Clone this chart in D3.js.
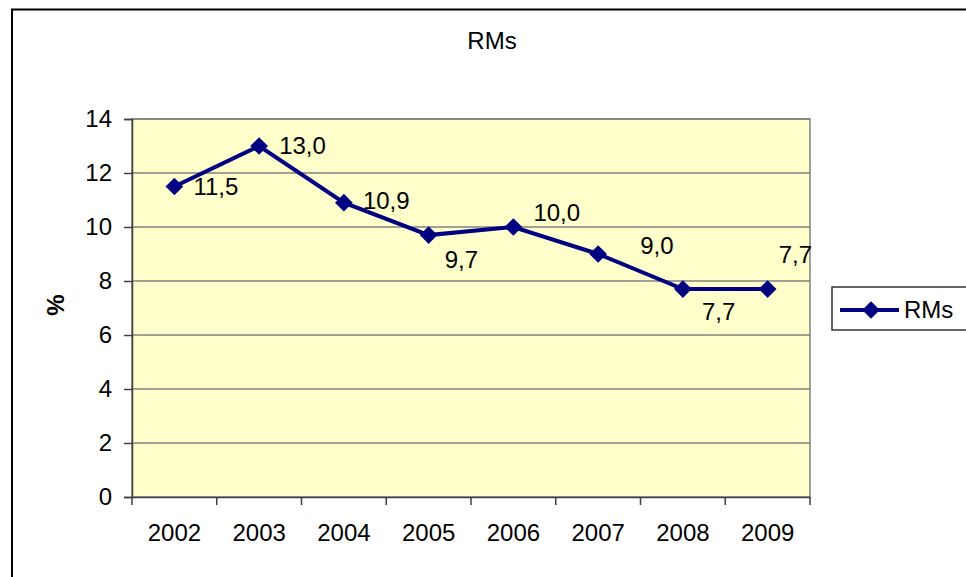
<!DOCTYPE html>
<html>
<head>
<meta charset="utf-8">
<script src="https://cdn.jsdelivr.net/npm/d3@7"></script>
<style>
  body { margin: 0; background: #fff; }
  svg { display: block; font-family: "Liberation Sans", Arial, sans-serif; }
</style>
</head>
<body>
<svg></svg>
<script>
let years = ['2002', '2003', '2004', '2005', '2006', '2007', '2008', '2009']
let values = [11.5, 13.0, 10.9, 9.7, 10.0, 9.0, 7.7, 7.7]
let yTicks = [0, 2, 4, 6, 8, 10, 12, 14]
let seriesName = 'RMs'
let chartTitle = 'RMs'
let yTitle = '%'

let width = 966
let height = 577
let plot = { left: 132, right: 810, top: 119, bottom: 497 }
let navy = '#000080'
let fontSize = 24

// where each data label sits relative to its point (dx, dy)
let labelShift = [[19, 0], [20, 0], [19, -2], [16, 24], [20, -14], [42, -8], [19, 22], [11, -35]]

let svg = d3.select('svg').attr('width', width).attr('height', height)

let xScale = d3.scaleBand().domain(years).range([plot.left, plot.right])
let xEdge = d3.scaleLinear().domain([0, years.length]).range([plot.left, plot.right])
let yScale = d3.scaleLinear().domain([0, 14]).range([plot.bottom, plot.top])

let diamond = d3.symbol().type(d3.symbolDiamond2).size(200)

// outer chart border
svg.append('rect')
  .attr('x', 12).attr('y', 9.5)
  .attr('width', width + 20).attr('height', height + 20)
  .attr('fill', 'none').attr('stroke', '#000').attr('stroke-width', 2)

// title
svg.append('text')
  .attr('x', 492).attr('y', 49)
  .attr('text-anchor', 'middle')
  .attr('font-size', fontSize)
  .text(chartTitle)

// plot background
svg.append('rect')
  .attr('x', plot.left).attr('y', plot.top)
  .attr('width', plot.right - plot.left).attr('height', plot.bottom - plot.top)
  .attr('fill', '#ffffcc').attr('stroke', '#808080').attr('stroke-width', 1.5)

// gridlines
svg.append('g')
  .selectAll('line')
  .data(yTicks.filter(d => d > 0))
  .enter()
  .append('line')
  .attr('x1', plot.left).attr('x2', plot.right)
  .attr('y1', d => yScale(d)).attr('y2', d => yScale(d))
  .attr('stroke', '#808080').attr('stroke-width', 1.5)

// y axis
let yAxis = svg.append('g')
  .attr('transform', `translate(${plot.left},0)`)
  .call(d3.axisLeft(yScale).tickValues(yTicks).tickSize(8).tickPadding(12).tickFormat(d3.format('d')))
yAxis.select('.domain').attr('stroke', '#404040').attr('stroke-width', 1.5)
yAxis.selectAll('.tick line').attr('stroke', '#404040').attr('stroke-width', 1.5)
yAxis.selectAll('text').attr('font-size', fontSize).attr('font-family', null).attr('fill', '#000')

// x axis line, edge ticks and labels
let xAxis = svg.append('g')
  .attr('transform', `translate(0,${plot.bottom})`)
  .call(d3.axisBottom(xScale).tickSize(0).tickPadding(27))
xAxis.select('.domain').attr('stroke', '#404040').attr('stroke-width', 1.5)
xAxis.selectAll('text').attr('font-size', fontSize).attr('font-family', null).attr('fill', '#000')

svg.append('g')
  .selectAll('line')
  .data(d3.range(years.length + 1))
  .enter()
  .append('line')
  .attr('x1', d => xEdge(d)).attr('x2', d => xEdge(d))
  .attr('y1', plot.bottom).attr('y2', plot.bottom + 8)
  .attr('stroke', '#404040').attr('stroke-width', 1.5)

// y title
svg.append('text')
  .attr('transform', 'translate(64,305) rotate(-90)')
  .attr('text-anchor', 'middle')
  .attr('font-size', fontSize)
  .attr('font-weight', 'bold')
  .text(yTitle)

// series line
let line = d3.line()
  .x((d, i) => xScale(years[i]) + xScale.bandwidth() / 2)
  .y(d => yScale(d))

svg.append('path')
  .datum(values)
  .attr('d', line)
  .attr('fill', 'none')
  .attr('stroke', navy)
  .attr('stroke-width', 4)

svg.append('g')
  .selectAll('path')
  .data(values)
  .enter()
  .append('path')
  .attr('d', diamond)
  .attr('transform', (d, i) => `translate(${xScale(years[i]) + xScale.bandwidth() / 2},${yScale(d)})`)
  .attr('fill', navy)

// data labels
svg.append('g')
  .selectAll('text')
  .data(values)
  .enter()
  .append('text')
  .attr('x', (d, i) => xScale(years[i]) + xScale.bandwidth() / 2 + labelShift[i][0])
  .attr('y', (d, i) => yScale(d) + labelShift[i][1])
  .attr('dy', '0.35em')
  .attr('font-size', fontSize)
  .text(d => d3.format('.1f')(d).replace('.', ','))

// legend
let legend = svg.append('g')
legend.append('rect')
  .attr('x', 832).attr('y', 287)
  .attr('width', 140).attr('height', 43)
  .attr('fill', '#fff').attr('stroke', '#333').attr('stroke-width', 1.5)
legend.append('line')
  .attr('x1', 840).attr('x2', 899)
  .attr('y1', 310).attr('y2', 310)
  .attr('stroke', navy).attr('stroke-width', 4)
legend.append('path')
  .attr('d', diamond)
  .attr('transform', 'translate(871,310)')
  .attr('fill', navy)
legend.append('text')
  .attr('x', 904).attr('y', 310)
  .attr('dy', '0.35em')
  .attr('font-size', fontSize)
  .text(seriesName)
</script>
</body>
</html>
